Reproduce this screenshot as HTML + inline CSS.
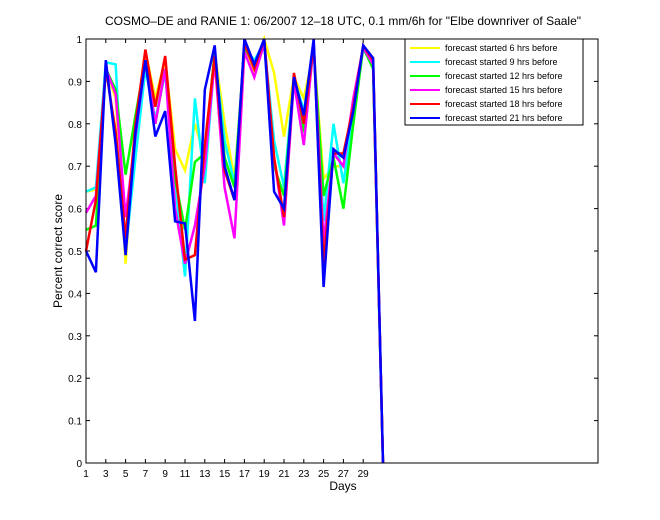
<!DOCTYPE html>
<html><head><style>body{margin:0;background:#fff}svg{display:block}text{font-family:"Liberation Sans",sans-serif;fill:#000}</style></head>
<body>
<svg id="s" width="660" height="520" viewBox="0 0 660 520">
<rect width="660" height="520" fill="#fff"/>
<text x="343" y="25" font-size="12" text-anchor="middle">COSMO–DE and RANIE 1: 06/2007 12–18 UTC, 0.1 mm/6h for "Elbe downriver of Saale"</text>
<text x="343" y="490" font-size="12" text-anchor="middle">Days</text>
<text transform="translate(62,251) rotate(-90)" font-size="12" text-anchor="middle">Percent correct score</text>
<g id="ax"></g>
<g id="lines" fill="none" stroke-width="2.5" stroke-linejoin="miter"></g>
<rect x="86" y="39" width="512" height="424" fill="none" stroke="#000" stroke-width="1"/>
<g id="leg">
<rect x="405" y="39" width="178" height="86" fill="#fff" stroke="#000" stroke-width="1"/>
</g>
</svg>
<script>
var NS="http://www.w3.org/2000/svg";
function el(t,a,p,txt){var e=document.createElementNS(NS,t);for(var k in a)e.setAttribute(k,a[k]);if(txt!=null)e.textContent=txt;p.appendChild(e);return e;}
var ax=document.getElementById('ax');
var X=function(d){return 86+9.9*(d-1)};var Y=function(v){return 463-424*v};
for(var i=0;i<=10;i++){var y=Y(i/10);el('line',{x1:86,y1:y,x2:90,y2:y,stroke:'#000'},ax);el('line',{x1:598,y1:y,x2:594,y2:y,stroke:'#000'},ax);
el('text',{x:82,y:y+4,'font-size':10,'text-anchor':'end'},ax,i==0?'0':i==10?'1':'0.'+i);}
for(var d=1;d<=29;d+=2){var x=X(d);el('line',{x1:x,y1:463,x2:x,y2:459,stroke:'#000'},ax);el('line',{x1:x,y1:39,x2:x,y2:43,stroke:'#000'},ax);
el('text',{x:x,y:477,'font-size':10,'text-anchor':'middle'},ax,''+d);}
var S=[
['#ffff00',[0.64,0.645,0.93,0.86,0.47,0.80,0.97,0.86,0.95,0.74,0.69,0.80,0.72,0.97,0.80,0.67,0.98,0.92,1.0,0.92,0.77,0.91,0.86,0.97,0.67,0.70,0.70,0.82,0.98,0.95,0]],
['#00ffff',[0.64,0.65,0.945,0.94,0.50,0.72,0.93,0.81,0.92,0.66,0.44,0.86,0.66,0.96,0.76,0.66,0.98,0.95,0.99,0.76,0.65,0.91,0.83,0.98,0.57,0.80,0.66,0.82,0.98,0.93,0]],
['#00ff00',[0.55,0.56,0.93,0.88,0.68,0.82,0.95,0.80,0.93,0.67,0.55,0.71,0.73,0.97,0.72,0.65,0.98,0.94,0.99,0.70,0.63,0.90,0.78,0.98,0.63,0.72,0.60,0.80,0.98,0.93,0]],
['#ff00ff',[0.59,0.63,0.93,0.87,0.58,0.77,0.95,0.80,0.93,0.60,0.47,0.56,0.70,0.95,0.65,0.53,0.97,0.91,0.99,0.72,0.56,0.90,0.75,0.99,0.52,0.73,0.70,0.86,0.98,0.94,0]],
['#ff0000',[0.50,0.62,0.93,0.78,0.53,0.80,0.975,0.84,0.96,0.70,0.48,0.49,0.75,0.96,0.69,0.62,0.99,0.93,1.0,0.72,0.58,0.92,0.80,0.99,0.47,0.73,0.73,0.84,0.985,0.95,0]],
['#0000ff',[0.50,0.45,0.95,0.75,0.49,0.78,0.95,0.77,0.83,0.57,0.565,0.335,0.88,0.985,0.70,0.62,1.0,0.94,1.0,0.64,0.60,0.91,0.82,1.0,0.415,0.74,0.72,0.83,0.985,0.955,0]]];
var names=['6','9','12','15','18','21'];
var g=document.getElementById('lines'),lg=document.getElementById('leg');
S.forEach(function(s,i){var p=s[1].map(function(v,j){return X(j+1).toFixed(1)+','+Y(v).toFixed(1)}).join(' ');
el('polyline',{points:p,stroke:s[0]},g);
var y=48+14*i;el('line',{x1:410,y1:y,x2:440,y2:y,stroke:s[0],'stroke-width':2},lg);
el('text',{x:445,y:y+3,'font-size':9},lg,'forecast started '+names[i]+' hrs before');});
</script>
</body></html>
